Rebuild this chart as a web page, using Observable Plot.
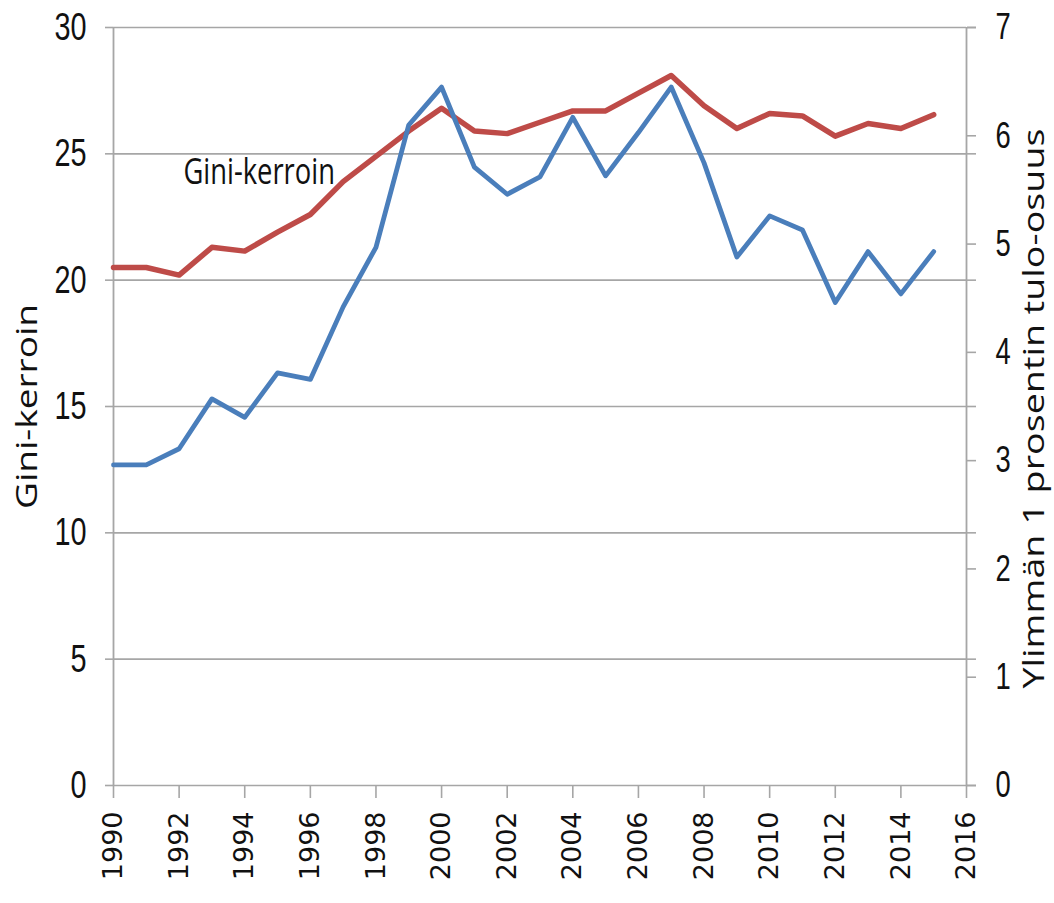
<!DOCTYPE html>
<html><head><meta charset="utf-8">
<script src="https://cdn.jsdelivr.net/npm/d3@7"></script>
<script src="https://cdn.jsdelivr.net/npm/@observablehq/plot@0.6"></script>
<style>html,body{margin:0;padding:0;background:#fff}#chart svg{display:block}</style>
</head><body><div id="chart"></div>
<script>
const years = [1990,1991,1992,1993,1994,1995,1996,1997,1998,1999,2000,2001,2002,2003,2004,2005,2006,2007,2008,2009,2010,2011,2012,2013,2014,2015];
const gini = [20.5,20.5,20.2,21.3,21.15,21.9,22.6,23.9,24.9,25.9,26.8,25.9,25.8,26.25,26.7,26.7,27.4,28.1,26.9,26.0,26.6,26.5,25.7,26.2,26.0,26.55];
const top1 = [2.96,2.96,3.11,3.57,3.40,3.81,3.75,4.42,4.97,6.10,6.45,5.71,5.46,5.62,6.17,5.63,6.03,6.45,5.75,4.88,5.26,5.13,4.46,4.93,4.54,4.93];
const leftTicks = [0,5,10,15,20,25,30];
const rightTicks = [0,1,2,3,4,5,6,7];
const xTicks = [1990,1992,1994,1996,1998,2000,2002,2004,2006,2008,2010,2012,2014,2016];
const leftLabel = "Gini-kerroin";
const rightLabel = "Ylimmän 1 prosentin tulo-osuus";
const annotation = "Gini-kerroin";

const ratio = 30 / 7;
const data = years.map((y, i) => ({year: y, gini: gini[i], top1: top1[i]}));
const gray = "#a6a6a6";
const sans = "'Open Sans', 'Liberation Sans', sans-serif";
const tickFont = "'Liberation Sans', Arial, sans-serif";

const chart = Plot.plot({
  width: 1054, height: 903,
  marginLeft: 113, marginRight: 88, marginTop: 27, marginBottom: 118,
  x: {domain: [1990, 2016]},
  y: {domain: [0, 30]},
  style: {fontFamily: sans, background: "white", color: "#111"},
  marks: [
    Plot.gridY(leftTicks, {stroke: gray, strokeOpacity: 1, strokeWidth: 1.6}),
    Plot.ruleX([1990, 2016], {stroke: gray, strokeWidth: 1.8}),
    Plot.axisX({ticks: xTicks, tickFormat: d => String(d), tickRotate: -90, tickSize: 13, tickPadding: 13,
      fontSize: 27, fontFamily: "'DejaVu Sans', sans-serif", stroke: gray, strokeWidth: 1.6, label: null}),
    Plot.axisY({ticks: leftTicks, tickSize: 8, tickPadding: 19, fontSize: 39, fontFamily: tickFont,
      stroke: gray, strokeWidth: 1.6, label: null}),
    Plot.axisY({anchor: "right", ticks: leftTicks, tickFormat: () => "", tickSize: 9, stroke: gray, strokeWidth: 1.6, label: null}),
    Plot.axisY({anchor: "right", ticks: rightTicks.map(v => v * ratio), tickFormat: d => String(Math.round(d / ratio)),
      tickSize: 9, tickPadding: 20, fontSize: 37, fontFamily: tickFont, stroke: gray, strokeWidth: 1.6, label: null}),
    Plot.line(data, {x: "year", y: "gini", stroke: "#be4b48", strokeWidth: 5.5}),
    Plot.line(data, {x: "year", y: d => d.top1 * ratio, stroke: "#4a7ebb", strokeWidth: 4.8}),
    Plot.text([annotation], {x: 1992.13, y: 24.26, textAnchor: "start", fontSize: 37, fill: "#111"}),
    Plot.text([leftLabel], {frameAnchor: "left", textAnchor: "middle", dx: -86, rotate: -90, fontSize: 37, fill: "#111"}),
    Plot.text([rightLabel], {frameAnchor: "right", textAnchor: "middle", dx: 68, dy: 2, rotate: -90, fontSize: 37.7, fill: "#111"})
  ]
});

// The reference is horizontally compressed: squash glyphs (not positions) of the horizontal-reading texts.
const squash = 0.74;
chart.querySelectorAll("text").forEach(t => {
  const parent = t.closest("g[aria-label]");
  if (parent && /^x-axis/.test(parent.getAttribute("aria-label"))) return;
  const tr = t.getAttribute("transform") || "";
  if (/rotate/.test(tr)) t.setAttribute("transform", tr + ` scale(1,${squash + 0.04})`);
  else t.setAttribute("transform", tr + ` scale(${squash},1)`);
});
document.getElementById("chart").appendChild(chart);
</script>
</body></html>
